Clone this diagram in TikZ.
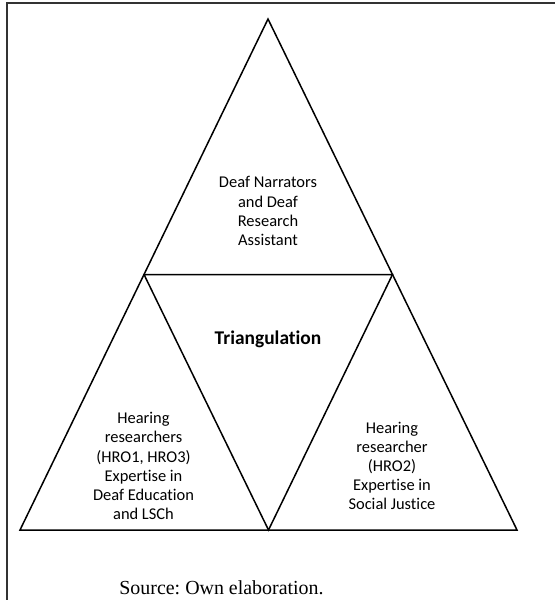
\documentclass[tikz,border=0pt]{standalone}
\usepackage{fontspec}
\setmainfont{Carlito}[Ligatures=NoCommon]
\newfontfamily\srcfont{Liberation Serif}
\frenchspacing
\begin{document}
\begin{tikzpicture}[x=1bp,y=-1bp,
  edge/.style={draw=black,line width=1.5bp,line join=miter},
  frame/.style={draw=black!80,line width=1.4bp},
  label/.style={align=center,font=\fontsize{16.5}{19.2}\selectfont,inner sep=0pt},
  title/.style={font=\fontsize{19.5}{22}\selectfont\bfseries,inner sep=0pt},
  source/.style={font=\srcfont\fontsize{20}{22}\selectfont,inner sep=0pt}]
\useasboundingbox (0,0) rectangle (555,600);
\fill[white] (0,0) rectangle (555,600);
% frame
\coordinate (fbl) at (7,605);
\coordinate (ftl) at (7,3);
\coordinate (ftr) at (560,3);
\draw[frame] (fbl) -- (ftl) -- (ftr);
% triangle vertices
\coordinate (A) at (268,19);
\coordinate (L) at (20,530);
\coordinate (R) at (517,530);
\coordinate (ML) at (144,274.5);
\coordinate (MR) at (392.5,274.5);
\coordinate (MB) at (268.5,530);
\draw[edge] (A) -- (L) -- (R) -- cycle;
\draw[edge] (ML) -- (MR) -- (MB) -- cycle;
% texts
\node[label] (top) at (268,211) {Deaf Narrators\\and Deaf\\Research\\Assistant};
\node[title] (tri) at (268,339) {Triangulation};
\node[label] (left) at (143.5,466) {Hearing\\researchers\\(HRO1, HRO3)\\Expertise in\\Deaf Education\\and LSCh};
\node[label] (right) at (392,466) {Hearing\\researcher\\(HRO2)\\Expertise in\\Social Justice};
\node[source] (src) at (221.5,588) {Source: Own elaboration.};
\end{tikzpicture}
\end{document}
